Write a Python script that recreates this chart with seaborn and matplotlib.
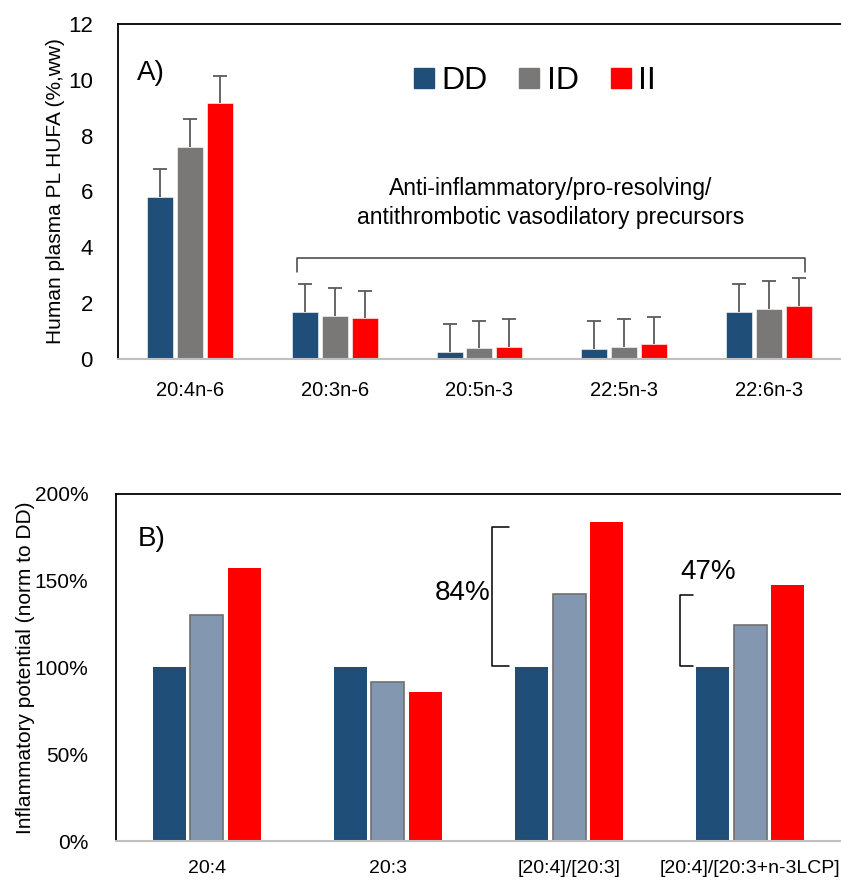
import numpy as np
import pandas as pd
import matplotlib
matplotlib.use("Agg")
import matplotlib.pyplot as plt
from matplotlib.lines import Line2D
from matplotlib.ticker import FuncFormatter
import seaborn as sns

# ---------------- data ----------------
groups = ["DD", "ID", "II"]
top_categories = ["20:4n-6", "20:3n-6", "20:5n-3", "22:5n-3", "22:6n-3"]
top_DD = [5.80, 1.68, 0.26, 0.36, 1.68]
top_ID = [7.60, 1.54, 0.38, 0.43, 1.79]
top_II = [9.17, 1.47, 0.44, 0.53, 1.90]
err_DD = [1.00, 1.01, 1.00, 1.00, 1.01]
err_ID = [1.00, 1.00, 0.99, 1.00, 1.01]
err_II = [0.97, 0.97, 0.99, 0.97, 1.00]

bot_categories = ["20:4", "20:3", "[20:4]/[20:3]", "[20:4]/[20:3+n-3LCP]"]
bot_DD = [100.0, 100.0, 100.0, 100.0]
bot_ID = [130.3, 91.6, 142.4, 124.5]
bot_II = [157.3, 85.9, 183.9, 147.5]

top_colors = ["#1F4E79", "#7A7777", "#FF0000"]
bot_colors = ["#1F4E79", "#8497B0", "#FF0000"]

# ---------------- style ----------------
sns.set_style("white")
plt.rcParams["font.family"] = ["Liberation Sans", "DejaVu Sans"]
plt.rcParams["text.color"] = "black"
plt.rcParams["axes.labelcolor"] = "black"
plt.rcParams["xtick.color"] = "black"
plt.rcParams["ytick.color"] = "black"

fig = plt.figure(figsize=(8.41, 8.81), dpi=100)
ax1 = fig.add_axes([0.1403, 0.5925, 0.8597, 0.3803])
ax2 = fig.add_axes([0.1380, 0.0454, 0.8620, 0.3939])

def long_df(cats, vals):
    rows = []
    for g, v in zip(groups, vals):
        for c, y in zip(cats, v):
            rows.append({"cat": c, "grp": g, "val": y})
    return pd.DataFrame(rows)

# ---------------- top panel ----------------
df1 = long_df(top_categories, [top_DD, top_ID, top_II])
sns.barplot(data=df1, x="cat", y="val", hue="grp", palette=top_colors,
            order=top_categories, hue_order=groups, width=0.62, gap=0.13,
            errorbar=None, legend=False, ax=ax1, edgecolor="white", linewidth=0.4,
            saturation=1)
for cont, err in zip(ax1.containers, [err_DD, err_ID, err_II]):
    xs = [p.get_x() + p.get_width() / 2 for p in cont.patches]
    hs = [p.get_height() for p in cont.patches]
    eb = ax1.errorbar(xs, hs, yerr=[np.zeros(len(err)), err], fmt="none",
                      ecolor="#5A5A5A", elinewidth=1.3, capsize=5, capthick=1.3, zorder=1)
    caps = eb[1]
    if len(caps) >= 2:
        caps[0].set_visible(False)

ax1.set_ylim(0, 12)
ax1.set_xlim(-0.5, len(top_categories) - 0.5)
ax1.set_yticks(range(0, 13, 2))
ax1.set_xlabel("")
ax1.set_ylabel("Human plasma PL HUFA (%,ww)", fontsize=15, labelpad=2)
ax1.tick_params(axis="y", labelsize=16, length=0, pad=18, labelcolor="black")
ax1.tick_params(axis="x", labelsize=14.5, length=0, pad=16, labelcolor="black")

for a in (ax1, ax2):
    a.spines["top"].set_color("black")
    a.spines["left"].set_color("black")
    a.spines["top"].set_linewidth(1.3)
    a.spines["left"].set_linewidth(1.3)
    a.spines["bottom"].set_color("#BFBFBF")
    a.spines["bottom"].set_linewidth(1.5)
    a.spines["right"].set_visible(False)

ax1.text(0.026, 0.855, "A)", transform=ax1.transAxes, fontsize=20, va="center", color="black")

handles = [Line2D([0], [0], marker="s", linestyle="none", markersize=14,
                  markerfacecolor=c, markeredgecolor=c) for c in top_colors]
leg = ax1.legend(handles, groups, loc="center", bbox_to_anchor=(0.577, 0.83), ncol=3,
                 frameon=False, fontsize=23, handlelength=0.6, handletextpad=0.25,
                 columnspacing=1.0, labelcolor="black")

# bracket + annotation
bx0, bx1, by, bdrop = 0.738, 4.25, 3.62, 3.1
ax1.plot([bx0, bx0, bx1, bx1], [bdrop, by, by, bdrop], color="#404040", lw=1.1)
ax1.text(2.49, 5.6, "Anti-inflammatory/pro-resolving/\nantithrombotic vasodilatory precursors",
         ha="center", va="center", fontsize=16.5, linespacing=1.35, color="black")

# ---------------- bottom panel ----------------
df2 = long_df(bot_categories, [bot_DD, bot_ID, bot_II])
sns.barplot(data=df2, x="cat", y="val", hue="grp", palette=bot_colors,
            order=bot_categories, hue_order=groups, width=0.62, gap=0.12,
            errorbar=None, legend=False, ax=ax2, linewidth=0, saturation=1)
for p in ax2.containers[1].patches:
    p.set_edgecolor("#6F6F6F")
    p.set_linewidth(1.2)

ax2.set_ylim(0, 200)
ax2.set_xlim(-0.5, len(bot_categories) - 0.5)
ax2.set_yticks(range(0, 201, 50))
ax2.yaxis.set_major_formatter(FuncFormatter(lambda v, _: f"{v:.0f}%"))
ax2.set_xlabel("")
ax2.set_ylabel("Inflammatory potential (norm to DD)", fontsize=15, labelpad=0)
ax2.tick_params(axis="y", labelsize=15, length=0, pad=20, labelcolor="black")
ax2.tick_params(axis="x", labelsize=14, length=0, pad=14, labelcolor="black")

ax2.text(0.03, 0.87, "B)", transform=ax2.transAxes, fontsize=20, va="center", color="black")

# brackets in panel B
def bracket(ax, x0, x1, y0, y1):
    ax.plot([x1, x0, x0, x1], [y0, y0, y1, y1], color="black", lw=1.1)

bracket(ax2, 1.575, 1.67, 101, 181)
ax2.text(1.41, 143, "84%", fontsize=20, ha="center", va="center", color="black")
bracket(ax2, 2.613, 2.685, 101, 141.8)
ax2.text(2.765, 155, "47%", fontsize=20, ha="center", va="center", color="black")

fig.savefig("out.png", dpi=100)
